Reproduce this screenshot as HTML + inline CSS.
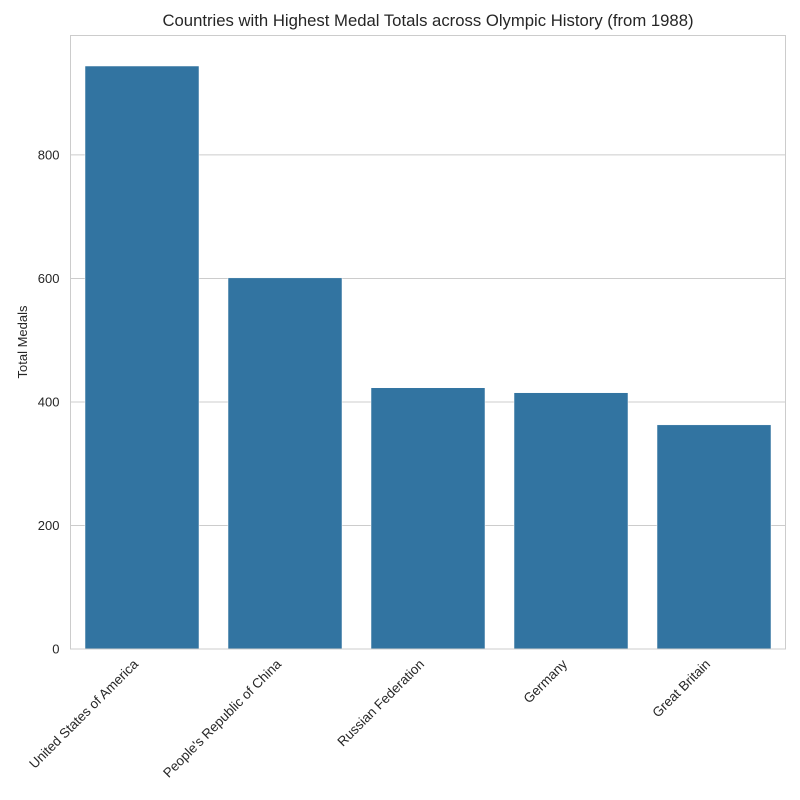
<!DOCTYPE html>
<html><head><meta charset="utf-8"><style>body{margin:0;background:#fff}svg{display:block;font-family:"Liberation Sans",sans-serif}</style></head>
<body>
<svg id="c" width="800" height="800">
<text x="428" y="26" text-anchor="middle" font-size="16.7" fill="#262626">Countries with Highest Medal Totals across Olympic History (from 1988)</text>
<text transform="translate(27,342) rotate(-90)" text-anchor="middle" font-size="13" fill="#262626">Total Medals</text>
</svg>
<script>
const categories=["United States of America","People's Republic of China","Russian Federation","Germany","Great Britain"];
const medals=[944,601,423,415,363];
const yTicks=[0,200,400,600,800];
const L=70.5,R=785.5,T=35.5,B=649;
const y=v=>B-v*(B-66)/944;
const step=(R-L)/categories.length;
const x=i=>L+step*i+step/2;
const svg=document.getElementById('c');
const NS='http://www.w3.org/2000/svg';
function mk(t,a){const e=document.createElementNS(NS,t);for(const k in a)e.setAttribute(k,a[k]);svg.appendChild(e);return e;}
yTicks.forEach(v=>{
 if(v>0){const g=mk('line',{x1:L,x2:R,y1:y(v),y2:y(v),stroke:'#cccccc','stroke-width':1});
 
 }
 const t=mk('text',{x:L-11,y:y(v)+4.5,'text-anchor':'end','font-size':13,fill:'#262626'});
 t.textContent=v;
 
 
});
medals.forEach((v,i)=>{
 const r=mk('rect',{x:x(i)-57,y:y(v),width:114,height:B-y(v),fill:'#3274a1',stroke:'#ffffff','stroke-width':0.5});
 
 
 const t=mk('text',{transform:`translate(${x(i)-3},${B+16}) rotate(-45)`,'text-anchor':'end','font-size':13.4,fill:'#262626'});
 t.textContent=categories[i];
 
 
});
const f=mk('rect',{x:L,y:T,width:R-L,height:B-T,fill:'none',stroke:'#cccccc','stroke-width':1});


</script>
</body></html>
